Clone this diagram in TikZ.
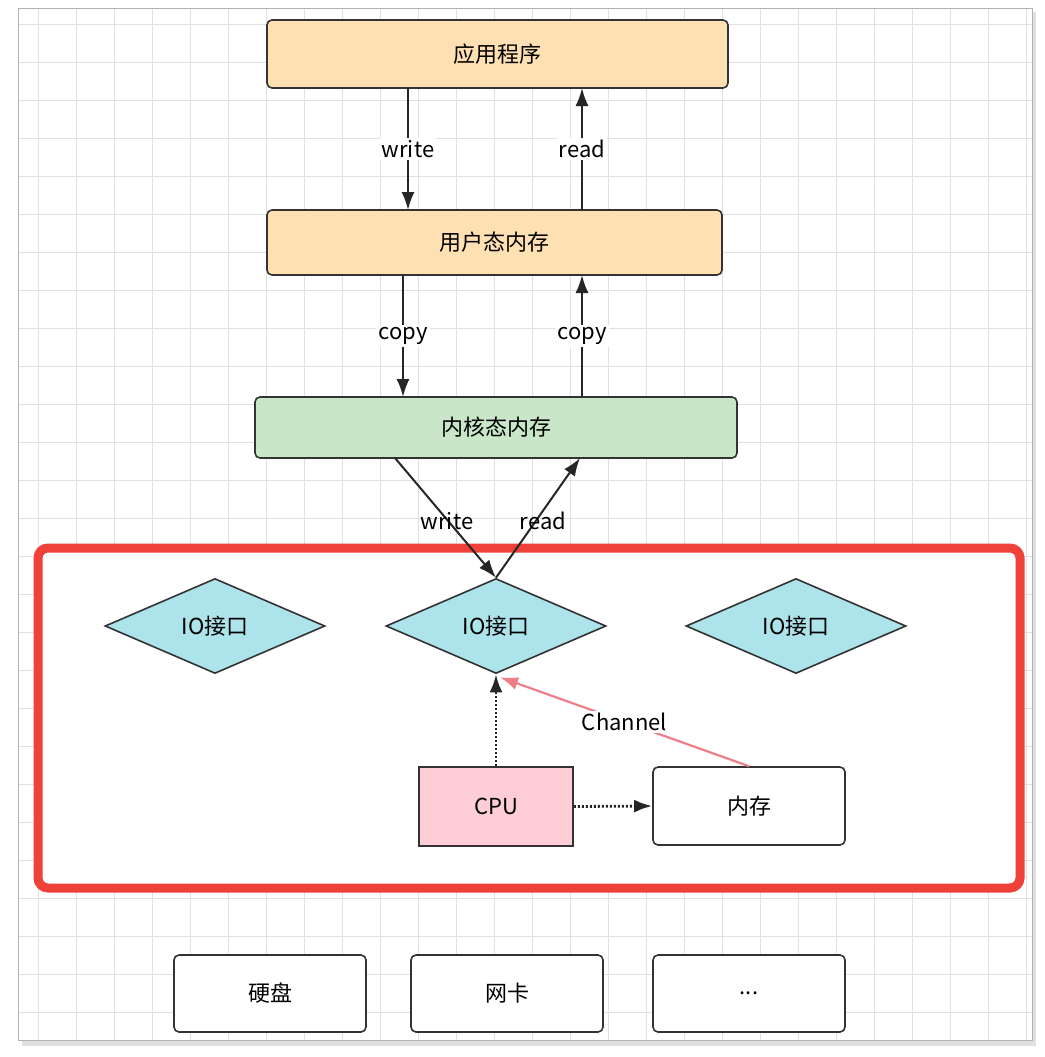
\documentclass[tikz,border=0pt]{standalone}
\usepackage{fontspec}
\setmainfont{Noto Sans CJK SC}
\usetikzlibrary{shapes.geometric,arrows.meta,calc}
\definecolor{appfill}{HTML}{FFE0B2}
\definecolor{kernfill}{HTML}{C9E6C9}
\definecolor{iofill}{HTML}{ADE3EA}
\definecolor{cpufill}{HTML}{FFCDD6}
\definecolor{chred}{HTML}{EE7F86}
\definecolor{frred}{HTML}{F0403A}
\tikzset{
	box/.style={draw=black!80, line width=1.6pt, rounded corners=5pt, font=\fontsize{22}{26}\selectfont},
	io/.style={diamond, draw=black!80, line width=1.6pt, fill=iofill, aspect=2.3, minimum width=220pt, minimum height=95pt, inner sep=0pt, font=\fontsize{22}{26}\selectfont},
	flow/.style={-{Latex[length=18pt,width=13pt]}, line width=2pt, draw=black!85},
	lbl/.style={fill=white, inner sep=2pt, font=\fontsize{22}{26}\selectfont},
}
\begin{document}
\begin{tikzpicture}[x=1pt,y=-1pt]
	\useasboundingbox (0,0) rectangle (1044,1057);
	% background sheet with grid
	\fill[black!12] (22,12) rectangle (1036,1046);
	\fill[white] (18,8) rectangle (1032,1040);
	\foreach \gx in {38,76,...,1030} \draw[black!12, line width=0.6pt] (\gx,8) -- (\gx,1040);
	\foreach \gy in {24,62,...,1038} \draw[black!12, line width=0.6pt] (18,\gy) -- (1032,\gy);
	\draw[black!30] (18,8) rectangle (1032,1040);

	% upper layers
	\node[box, fill=appfill, minimum width=461pt, minimum height=68pt] (app) at (497.5,54) {应用程序};
	\node[box, fill=appfill, minimum width=455pt, minimum height=65pt] (user) at (494.5,242.5) {用户态内存};
	\node[box, fill=kernfill, minimum width=482pt, minimum height=61pt] (kern) at (496,427.5) {内核态内存};

	\coordinate (a1) at (408,88);   \coordinate (u1) at (408,210);
	\coordinate (a2) at (582,88);   \coordinate (u2) at (582,210);
	\coordinate (u3) at (403,275);  \coordinate (k3) at (403,397);
	\coordinate (u4) at (582,275);  \coordinate (k4) at (582,397);
	\draw[flow] (a1) -- node[lbl] {write} (u1);
	\draw[flow] (u2) -- node[lbl] {read} (a2);
	\draw[flow] (u3) -- node[lbl] {copy} (k3);
	\draw[flow] (k4) -- node[lbl] {copy} (u4);

	% IO region
	\draw[frred, line width=9pt, rounded corners=10pt, fill=white] (38,548) rectangle (1020,888);
	\node[io] (io1) at (215,626) {IO接口};
	\node[io] (io2) at (496,626) {IO接口};
	\node[io] (io3) at (796,626) {IO接口};

	\coordinate (k5) at (395,458);
	\coordinate (k6) at (580,458);
	\draw[flow] (k5) -- (io2.north);
	\draw[flow] (io2.north) -- (k6);
	\node[lbl, fill=none] at (447,521) {write};
	\node[lbl, fill=none] at (543,521) {read};

	\node[box, rounded corners=0pt, fill=cpufill, minimum width=154pt, minimum height=79pt] (cpu) at (496,806.5) {CPU};
	\node[box, fill=white, minimum width=192pt, minimum height=78pt] (mem) at (749,806) {内存};
	\draw[flow, dotted, line width=2.8pt] (cpu.north) -- (io2.south);
	\draw[flow, dotted, line width=2.8pt] (cpu.east) -- (mem.west);
	\draw[-{Latex[length=18pt,width=13pt]}, line width=2.2pt, draw=chred] (mem.north) -- node[lbl, pos=0.5] {Channel} ($(io2.south)+(4,3)$);

	% devices
	\node[box, fill=white, minimum width=192pt, minimum height=77pt] (disk) at (270,993.5) {硬盘};
	\node[box, fill=white, minimum width=192pt, minimum height=77pt] (nic) at (507,993.5) {网卡};
	\node[box, fill=white, minimum width=192pt, minimum height=77pt] (more) at (749,993.5) {...};
\end{tikzpicture}
\end{document}
